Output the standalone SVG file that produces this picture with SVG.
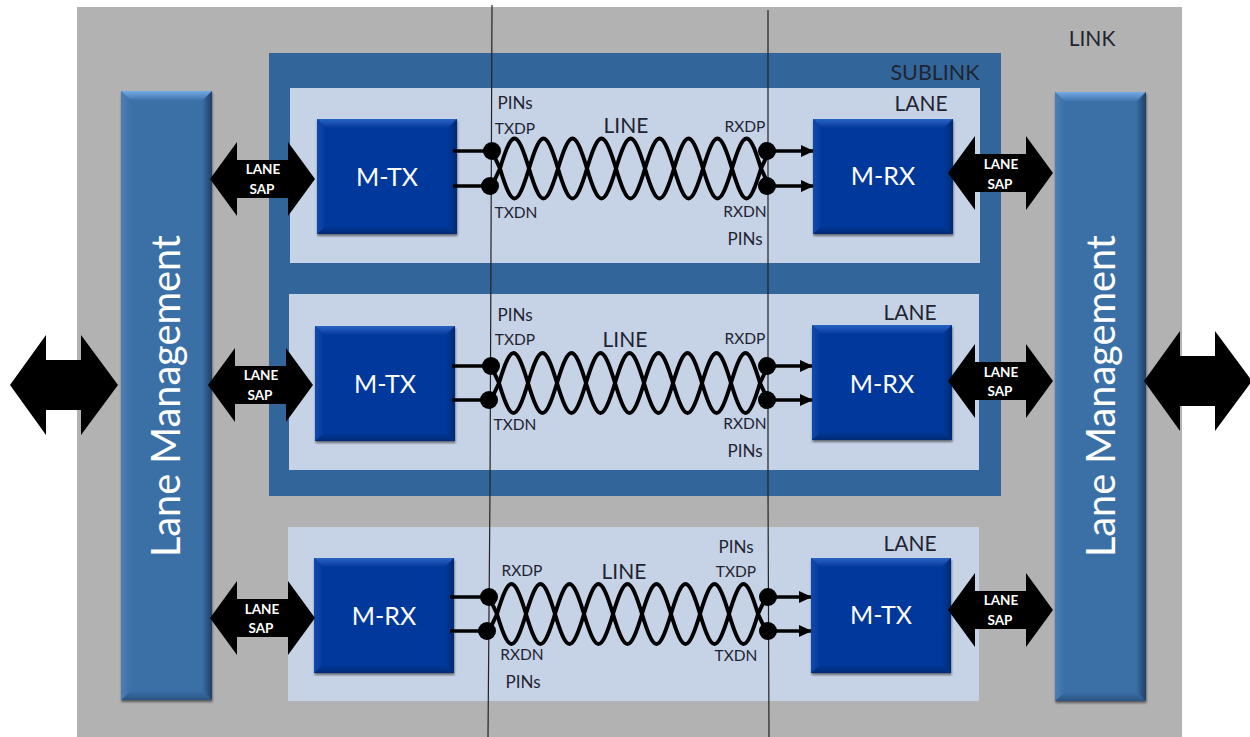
<svg xmlns="http://www.w3.org/2000/svg" width="1250" height="737" viewBox="0 0 1250 737">
<style>
text{font-family:"Lato","Carlito","Liberation Sans",sans-serif;text-anchor:middle}
.pin{font-size:15.5px;fill:#1f2430}
.pn{font-size:17px;fill:#1f2430}
.hd{font-size:21px;fill:#1f2430}
.blk{font-size:25px;fill:#fff}
.sap{font-size:13.5px;font-weight:700;fill:#fff}
.mg{font-size:39.7px;fill:#fff}
.lane{fill:#c6d2e6}
.w{fill:none;stroke:#000;stroke-width:3.9;stroke-linecap:round}
.lead{fill:none;stroke:#000;stroke-width:3.6}
.rule{fill:none;stroke:#222;stroke-width:1.2}
</style>
<defs>
<filter id="sh" x="-10%" y="-10%" width="120%" height="120%"><feDropShadow dx="0.5" dy="2" stdDeviation="1.3" flood-color="#000" flood-opacity=".5"/></filter>
<marker id="ah" markerWidth="13" markerHeight="12" refX="12" refY="6" orient="auto" markerUnits="userSpaceOnUse"><path d="M0 0L13 6L0 12z" fill="#000"/></marker>
<linearGradient id="mt" x1="0" y1="0" x2="0" y2="1"><stop offset="0" stop-color="#2a64c4"/><stop offset="1" stop-color="#03389c"/></linearGradient>
<linearGradient id="mb2" x1="0" y1="0" x2="0" y2="1"><stop offset="0" stop-color="#03389c"/><stop offset="1" stop-color="#012a72"/></linearGradient>
<linearGradient id="mr" x1="0" y1="0" x2="1" y2="0"><stop offset="0" stop-color="#03389c"/><stop offset="1" stop-color="#012a72"/></linearGradient>
<linearGradient id="ml" x1="0" y1="0" x2="1" y2="0"><stop offset="0" stop-color="#0f49ad"/><stop offset="1" stop-color="#03389c"/></linearGradient>
<linearGradient id="bt" x1="0" y1="0" x2="0" y2="1"><stop offset="0" stop-color="#74aae6"/><stop offset="1" stop-color="#3a6fa7"/></linearGradient>
<linearGradient id="bb" x1="0" y1="0" x2="0" y2="1"><stop offset="0" stop-color="#3a6fa7"/><stop offset="1" stop-color="#2a5482"/></linearGradient>
<linearGradient id="br" x1="0" y1="0" x2="1" y2="0"><stop offset="0" stop-color="#3a6fa7"/><stop offset="1" stop-color="#1f3f63"/></linearGradient>
<linearGradient id="bl" x1="0" y1="0" x2="1" y2="0"><stop offset="0" stop-color="#4e7fb3"/><stop offset="1" stop-color="#3a6fa7"/></linearGradient>
<polygon id="sa" points="0,0 27,-37 27,-19 78,-19 78,-37 105,0 78,37 78,19 27,19 27,37"/>
<polygon id="ba" points="0,0 36,-50 36,-25 71,-25 71,-50 108,0 71,50 71,25 36,25 36,50"/>
<g id="mbx">
<rect width="140" height="115" fill="#03389c"/>
<polygon points="0,0 140,0 131,9 9,9" fill="url(#mt)"/>
<polygon points="0,0 9,9 9,107 0,115" fill="url(#ml)"/>
<polygon points="140,0 131,9 131,107 140,115" fill="url(#mr)"/>
<polygon points="0,115 9,107 131,107 140,115" fill="url(#mb2)"/>
</g>
<g id="lm">
<rect width="91" height="609" fill="#3a6fa7"/>
<polygon points="0,0 91,0 81,10 10,10" fill="url(#bt)"/>
<polygon points="0,0 10,10 10,600 0,609" fill="url(#bl)"/>
<polygon points="91,0 81,10 81,600 91,609" fill="url(#br)"/>
<polygon points="0,609 10,600 81,600 91,609" fill="url(#bb)"/>
</g>
<g id="tw">
<path class="w" d="M-8 17L0 0c12 -40 17 -40 29 0c12 40 17 40 29 0c12 -40 17 -40 29 0c12 40 17 40 29 0c12 -40 17 -40 29 0c12 40 17 40 29 0c12 -40 17 -40 29 0c12 40 17 40 29 0c12 -40 17 -40 29 0L269 -17"/>
<path class="w" d="M-8 -17L0 0c12 40 17 40 29 0c12 -40 17 -40 29 0c12 40 17 40 29 0c12 -40 17 -40 29 0c12 40 17 40 29 0c12 -40 17 -40 29 0c12 40 17 40 29 0c12 -40 17 -40 29 0c12 40 17 40 29 0L269 17"/>
</g>
<circle id="dot" r="9" fill="#000"/>
</defs>
<rect width="1250" height="737" fill="#fff"/>
<rect x="77" y="7" width="1105" height="730" fill="#b2b2b2"/>
<g id="sublink"><rect x="269" y="53" width="732" height="443" fill="#32669a"/></g>
<g id="lane1"><rect class="lane" x="290" y="88" width="690" height="175"/></g>
<g id="lane2"><rect class="lane" x="289" y="294" width="690" height="176"/></g>
<g id="lane3"><rect class="lane" x="288" y="527" width="691" height="174"/></g>

<g id="mgmt-left"><use href="#lm" x="121" y="91" filter="url(#sh)"/><text class="mg" transform="translate(180 396) rotate(-90)">Lane Management</text></g>
<g id="mgmt-right"><use href="#lm" x="1055" y="92" filter="url(#sh)"/><text class="mg" transform="translate(1115 396) rotate(-90)">Lane Management</text></g>

<g id="tx1"><use href="#mbx" x="317" y="119" filter="url(#sh)"/><text class="blk" x="387" y="186">M-TX</text></g>
<g id="rx1"><use href="#mbx" x="813" y="119" filter="url(#sh)"/><text class="blk" x="883" y="185">M-RX</text></g>
<g id="tx2"><use href="#mbx" x="315" y="326" filter="url(#sh)"/><text class="blk" x="385" y="393">M-TX</text></g>
<g id="rx2"><use href="#mbx" x="812" y="325" filter="url(#sh)"/><text class="blk" x="882" y="393">M-RX</text></g>
<g id="rx3"><use href="#mbx" x="314" y="558" filter="url(#sh)"/><text class="blk" x="384" y="625">M-RX</text></g>
<g id="tx3"><use href="#mbx" x="811" y="558" filter="url(#sh)"/><text class="blk" x="881" y="624">M-TX</text></g>

<g id="connectors">
<path class="rule" d="M492 5L490 490L488 737"/>
<path class="rule" d="M768 10L768 490L769 737"/>
<use href="#tw" x="500" y="168.5"/>
<use href="#tw" x="499" y="383"/>
<use href="#tw" x="497" y="614"/>
<path class="lead" d="M453 151H492M453 186H492"/>
<path class="lead" marker-end="url(#ah)" d="M767 151H813"/>
<path class="lead" marker-end="url(#ah)" d="M767 186H813"/>
<path class="lead" d="M452 366H491M452 400H491"/>
<path class="lead" marker-end="url(#ah)" d="M767 366H812"/>
<path class="lead" marker-end="url(#ah)" d="M767 400H812"/>
<path class="lead" d="M450 597H489M450 631H489"/>
<path class="lead" marker-end="url(#ah)" d="M768 597H811"/>
<path class="lead" marker-end="url(#ah)" d="M768 631H811"/>
<use href="#dot" x="492" y="151"/><use href="#dot" x="490" y="186"/>
<use href="#dot" x="767" y="151"/><use href="#dot" x="767" y="186"/>
<use href="#dot" x="491" y="366"/><use href="#dot" x="489" y="400"/>
<use href="#dot" x="767" y="366"/><use href="#dot" x="767" y="400"/>
<use href="#dot" x="489" y="597"/><use href="#dot" x="487" y="631"/>
<use href="#dot" x="768" y="597"/><use href="#dot" x="768" y="631"/>
<use href="#ba" x="10" y="385"/>
<use href="#ba" x="1144" y="381"/>
</g>

<g id="sap1l"><use href="#sa" x="210" y="179"/><text class="sap" x="263" y="174">LANE</text><text class="sap" x="262" y="194">SAP</text></g>
<g id="sap1r"><use href="#sa" x="948" y="173"/><text class="sap" x="1001" y="169">LANE</text><text class="sap" x="1000" y="189">SAP</text></g>
<g id="sap2l"><use href="#sa" x="208" y="385"/><text class="sap" x="261" y="380">LANE</text><text class="sap" x="260" y="400">SAP</text></g>
<g id="sap2r"><use href="#sa" x="948" y="381"/><text class="sap" x="1001" y="377">LANE</text><text class="sap" x="1000" y="396">SAP</text></g>
<g id="sap3l"><use href="#sa" x="210" y="618"/><text class="sap" x="262" y="614">LANE</text><text class="sap" x="261" y="633">SAP</text></g>
<g id="sap3r"><use href="#sa" x="948" y="610"/><text class="sap" x="1001" y="605">LANE</text><text class="sap" x="1000" y="625">SAP</text></g>

<g id="labels">
<text class="hd" x="1092" y="46">LINK</text>
<text class="hd" x="935" y="80" style="font-size:21.5px">SUBLINK</text>
<text class="hd" x="921" y="111">LANE</text>
<text class="hd" x="910" y="320">LANE</text>
<text class="hd" x="910" y="551">LANE</text>
<text class="hd" x="626" y="133">LINE</text>
<text class="hd" x="625" y="347">LINE</text>
<text class="hd" x="624" y="579">LINE</text>
<text class="pn" x="515" y="109">PINs</text>
<text class="pin" x="515" y="134">TXDP</text>
<text class="pin" x="516" y="218">TXDN</text>
<text class="pin" x="745" y="132">RXDP</text>
<text class="pin" x="745" y="217">RXDN</text>
<text class="pn" x="745" y="245">PINs</text>
<text class="pn" x="515" y="321">PINs</text>
<text class="pin" x="515" y="345">TXDP</text>
<text class="pin" x="515" y="430">TXDN</text>
<text class="pin" x="745" y="344">RXDP</text>
<text class="pin" x="745" y="429">RXDN</text>
<text class="pn" x="745" y="457">PINs</text>
<text class="pin" x="522" y="576">RXDP</text>
<text class="pin" x="522" y="660">RXDN</text>
<text class="pn" x="523" y="688">PINs</text>
<text class="pn" x="736" y="553">PINs</text>
<text class="pin" x="736" y="577">TXDP</text>
<text class="pin" x="736" y="661">TXDN</text>
</g>
</svg>
